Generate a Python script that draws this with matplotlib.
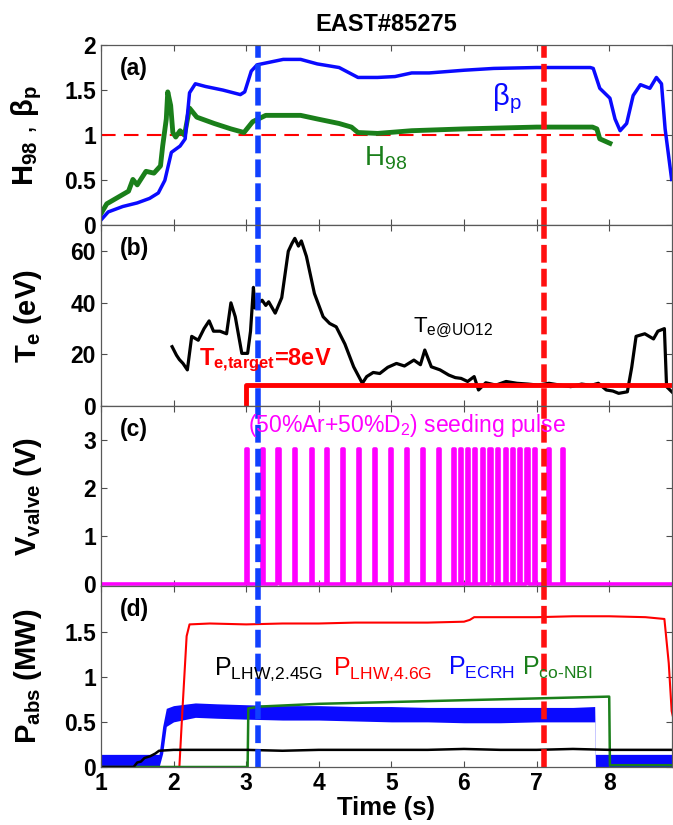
import matplotlib
matplotlib.use("Agg")
import matplotlib.pyplot as plt

plt.rcParams['font.family'] = ['Liberation Sans', 'DejaVu Sans']
plt.rcParams['mathtext.fontset'] = 'custom'
plt.rcParams['mathtext.rm'] = 'Liberation Sans'
plt.rcParams['mathtext.it'] = 'Liberation Sans'
plt.rcParams['mathtext.bf'] = 'Liberation Sans:bold'

# ---- data ----
# (a) poloidal beta and H98
t_bp = [1.0, 1.1, 1.3, 1.5, 1.67, 1.79, 1.88, 1.97, 2.09, 2.16, 2.22, 2.30, 2.44, 2.68, 2.92, 2.98,
        3.07, 3.15, 3.27, 3.51, 3.75, 3.98, 4.28, 4.54, 4.81, 5.05, 5.28, 5.52, 6.0, 6.41, 7.0, 7.3,
        7.74, 7.78, 7.87, 8.01, 8.08, 8.15, 8.24, 8.33, 8.43, 8.56, 8.65, 8.72, 8.77, 8.86]
beta_p = [0.06, 0.15, 0.21, 0.25, 0.30, 0.36, 0.50, 0.81, 0.88, 0.96, 1.47, 1.57, 1.54, 1.50, 1.45, 1.48,
          1.71, 1.78, 1.80, 1.84, 1.84, 1.79, 1.75, 1.64, 1.64, 1.65, 1.69, 1.69, 1.72, 1.74, 1.75, 1.75,
          1.75, 1.74, 1.52, 1.41, 1.18, 1.05, 1.13, 1.44, 1.56, 1.52, 1.64, 1.57, 1.07, 0.51]

t_h98 = [1.0, 1.08, 1.38, 1.44, 1.5, 1.62, 1.73, 1.82, 1.85, 1.9, 1.92, 1.96, 1.99, 2.03, 2.09, 2.15,
         2.22, 2.32, 2.56, 2.79, 2.97, 3.09, 3.27, 3.51, 3.75, 3.98, 4.28, 4.45, 4.54, 4.81, 5.28, 6.0,
         7.0, 7.77, 7.83, 7.87, 8.01]
h98 = [0.13, 0.24, 0.38, 0.51, 0.45, 0.60, 0.58, 0.66, 0.88, 1.18, 1.48, 1.33, 1.03, 0.98, 1.05, 1.00,
       1.30, 1.20, 1.13, 1.07, 1.03, 1.15, 1.22, 1.22, 1.22, 1.18, 1.13, 1.09, 1.03, 1.02, 1.05, 1.07,
       1.09, 1.09, 1.07, 0.96, 0.91]

# (b) divertor electron temperature
t_te = [1.98, 2.04, 2.08, 2.13, 2.19, 2.25, 2.34, 2.42, 2.49, 2.55, 2.64, 2.73, 2.79, 2.85, 2.94, 3.02,
        3.06, 3.10, 3.12, 3.17, 3.22, 3.27, 3.31, 3.40, 3.49, 3.58, 3.63, 3.67, 3.72, 3.76, 3.83, 3.94,
        4.06, 4.15, 4.24, 4.36, 4.48, 4.60, 4.66, 4.75, 4.84, 4.95, 5.07, 5.18, 5.31, 5.40, 5.46, 5.55,
        5.67, 5.79, 5.88, 5.96, 6.05, 6.14, 6.20, 6.30, 6.44, 6.58, 6.73, 6.88, 7.02, 7.17, 7.32, 7.47,
        7.62, 7.75, 7.85, 7.96, 8.05, 8.13, 8.25, 8.31, 8.37, 8.49, 8.55, 8.61, 8.67, 8.76, 8.79, 8.88]
te = [23, 19.7, 18, 16.5, 14, 27, 25.5, 30, 33, 29, 29, 28, 40, 34.6, 20.4, 20.4,
      29, 46, 38, 40, 41, 39, 40.4, 36, 42, 60, 63, 65, 62, 64, 58, 43.6,
      34.6, 32, 30.7, 24, 15.2, 8.8, 11.4, 13, 12.6, 15, 16.5, 15.5, 17.8, 16, 21.7, 15.2,
      14, 12, 11, 10.7, 9.5, 11.4, 6.2, 9, 8.1, 9.5, 8.8, 8.5, 8.1, 8.8, 8.1, 7.5,
      8.5, 8.0, 8.8, 6.2, 5.8, 4.9, 5.5, 15, 27, 28, 27, 26, 29, 30, 7.5, 5]

t_target = [3.0, 3.0, 8.88]
te_target = [0, 8, 8]

# (c) gas valve pulses (start times, s) and pulse amplitude
pulse_times = [3.00, 3.22, 3.43, 3.66, 3.89, 4.10, 4.32, 4.54, 4.76, 4.98, 5.20, 5.42, 5.64,
               5.85, 5.94, 6.04, 6.14, 6.25, 6.35, 6.45, 6.56, 6.66, 6.76, 6.86, 6.96, 7.16, 7.35]
pulse_height = 2.8

# (d) absorbed heating powers
t_lhw46 = [1.0, 2.08, 2.12, 2.18, 2.22, 2.5, 3.0, 3.5, 4.0, 4.5, 5.0, 5.5, 6.0, 6.08, 6.14, 6.5,
           7.0, 7.5, 8.0, 8.5, 8.76, 8.82, 8.86, 8.88]
p_lhw46 = [0.0, 0.0, 0.6, 1.45, 1.58, 1.59, 1.58, 1.59, 1.59, 1.60, 1.60, 1.60, 1.61, 1.63, 1.66, 1.66,
           1.66, 1.67, 1.67, 1.66, 1.64, 1.15, 0.62, 0.55]

t_lhw245 = [1.0, 1.45, 1.5, 1.55, 1.6, 1.68, 1.75, 1.8, 2.0, 2.5, 3.0, 3.5, 4.0, 4.5, 5.0, 5.5, 6.0,
            6.5, 7.0, 7.5, 8.0, 8.5, 8.88]
p_lhw245 = [0.0, 0.0, 0.05, 0.06, 0.10, 0.12, 0.15, 0.18, 0.19, 0.19, 0.19, 0.18, 0.19, 0.19, 0.19,
            0.19, 0.20, 0.19, 0.19, 0.20, 0.19, 0.19, 0.19]

t_ecrh = [1.0, 1.8, 1.85, 1.9, 2.0, 2.3, 2.6, 3.0, 3.5, 4.0, 4.5, 5.0, 5.5, 6.0, 6.5, 7.0, 7.5,
          7.8, 7.81, 8.88]
p_ecrh_hi = [0.14, 0.14, 0.45, 0.65, 0.68, 0.71, 0.70, 0.69, 0.68, 0.68, 0.67, 0.67, 0.66, 0.66,
             0.66, 0.66, 0.66, 0.67, 0.14, 0.14]
p_ecrh_lo = [0.0, 0.0, 0.15, 0.45, 0.50, 0.55, 0.54, 0.53, 0.52, 0.52, 0.51, 0.50, 0.50, 0.49,
             0.49, 0.50, 0.50, 0.50, 0.0, 0.0]

t_nbi = [1.0, 3.02, 3.03, 3.2, 4.0, 5.0, 6.0, 7.0, 7.5, 8.0, 8.01, 8.88]
p_nbi = [0.0, 0.0, 0.65, 0.67, 0.70, 0.72, 0.74, 0.76, 0.77, 0.78, 0.02, 0.02]

t_blue_line = 3.16
t_red_line = 7.10

BLUE = '#0a0aff'
GREEN = '#1a7f1a'
MAGENTA = '#ff00ff'

# ---- figure ----
fig, axes = plt.subplots(4, 1, sharex=True, figsize=(6.73, 8.25), dpi=100)
fig.subplots_adjust(left=0.150, right=0.998, top=0.9455, bottom=0.0703, hspace=0)
ax_a, ax_b, ax_c, ax_d = axes

# (a)
ax_a.axhline(1.0, color='red', lw=1.5, dashes=(7, 4))
ax_a.plot(t_h98, h98, color=GREEN, lw=3.5)
ax_a.plot(t_bp, beta_p, color=BLUE, lw=2.5)
ax_a.set_ylim(0, 2)
ax_a.set_yticks([0, 0.5, 1, 1.5, 2])
ax_a.set_yticklabels(['0', '0.5', '1', '1.5', '2'])
ax_a.set_ylabel(r'$\mathbf{H_{98}}$ , $\mathbf{β_p}$', fontsize=21)
ax_a.text(6.38, 1.33, r'$\mathrm{β_p}$', color=BLUE, fontsize=21)
ax_a.text(4.62, 0.66, r'$\mathrm{H_{98}}$', color=GREEN, fontsize=20)
ax_a.set_title('EAST#85275', fontsize=17, fontweight='bold', pad=10)

# (b)
ax_b.plot(t_te, te, color='black', lw=2.3)
ax_b.plot(t_target, te_target, color='red', lw=3.5)
ax_b.set_ylim(0, 70)
ax_b.set_yticks([0, 20, 40, 60])
ax_b.set_ylabel(r'$\mathbf{T_e}$ $\mathbf{(eV)}$', fontsize=21)
ax_b.text(2.35, 16, r'$\mathbf{T_{e{,}target}}$=8eV', color='red', fontsize=17,
          fontweight='bold')
ax_b.text(5.30, 28.5, r'$\mathrm{T_{e@UO12}}$', color='black', fontsize=16)

# (c)
t_valve = [1.0]
v_valve = [0.0]
for tp in pulse_times:
    t_valve += [tp, tp, tp + 0.03, tp + 0.03]
    v_valve += [0.0, pulse_height, pulse_height, 0.0]
t_valve.append(8.88)
v_valve.append(0.0)
ax_c.plot(t_valve, v_valve, color=MAGENTA, lw=2.6)
ax_c.set_ylim(-0.05, 3.7)
ax_c.set_yticks([0, 1, 2, 3])
ax_c.set_ylabel(r'$\mathbf{V_{valve}}$ $\mathbf{(V)}$', fontsize=21)
ax_c.text(3.02, 3.3, r'$\mathrm{(50\%Ar{+}50\%D_2)\ seeding\ pulse}$', color=MAGENTA,
          fontsize=16.5, va='center')

# (d)
ax_d.fill_between(t_ecrh, p_ecrh_lo, p_ecrh_hi, color=BLUE, lw=0)
ax_d.plot(t_lhw46, p_lhw46, color='red', lw=1.5)
ax_d.plot(t_nbi, p_nbi, color=GREEN, lw=1.8)
ax_d.plot(t_lhw245, p_lhw245, color='black', lw=1.8)
ax_d.set_ylim(0, 2)
ax_d.set_yticks([0, 0.5, 1, 1.5])
ax_d.set_yticklabels(['0', '0.5', '1', '1.5'])
ax_d.set_ylabel(r'$\mathbf{P_{abs}}$ $\mathbf{(MW)}$', fontsize=21)
ax_d.text(2.56, 1.02, r'$\mathrm{P_{LHW{,}2.45G}}$', color='black', fontsize=18)
ax_d.text(4.20, 1.02, r'$\mathrm{P_{LHW{,}4.6G}}$', color='red', fontsize=18)
ax_d.text(5.78, 1.02, r'$\mathrm{P_{ECRH}}$', color=BLUE, fontsize=18)
ax_d.text(6.80, 1.02, '$\\mathrm{P_{co\u2010NBI}}$', color=GREEN, fontsize=18)
ax_d.set_xlim(1, 8.86)
ax_d.set_xticks([1, 2, 3, 4, 5, 6, 7, 8])
ax_d.set_xlabel('Time (s)', fontsize=18.5, fontweight='bold', labelpad=1)

for ax, lab in zip(axes, ['(a)', '(b)', '(c)', '(d)']):
    ax.axvline(t_blue_line, color='#1040ff', lw=4, dashes=(3.2, 1.1))
    ax.axvline(t_red_line, color='#ff1010', lw=4, dashes=(3.2, 1.1))
    ax.text(0.033, 0.87, lab, transform=ax.transAxes, fontsize=16.5, fontweight='bold', va='center')
    ax.tick_params(direction='in', top=True, right=True, length=4, width=0.8,
                   color='0.3', labelsize=16.5)
    for lbl in ax.get_yticklabels() + ax.get_xticklabels():
        lbl.set_fontweight('bold')
    for s in ax.spines.values():
        s.set_color('0.35')
        s.set_linewidth(0.9)
    ax.yaxis.set_label_coords(-0.1, 0.5)

plt.savefig('out.png', dpi=100)
